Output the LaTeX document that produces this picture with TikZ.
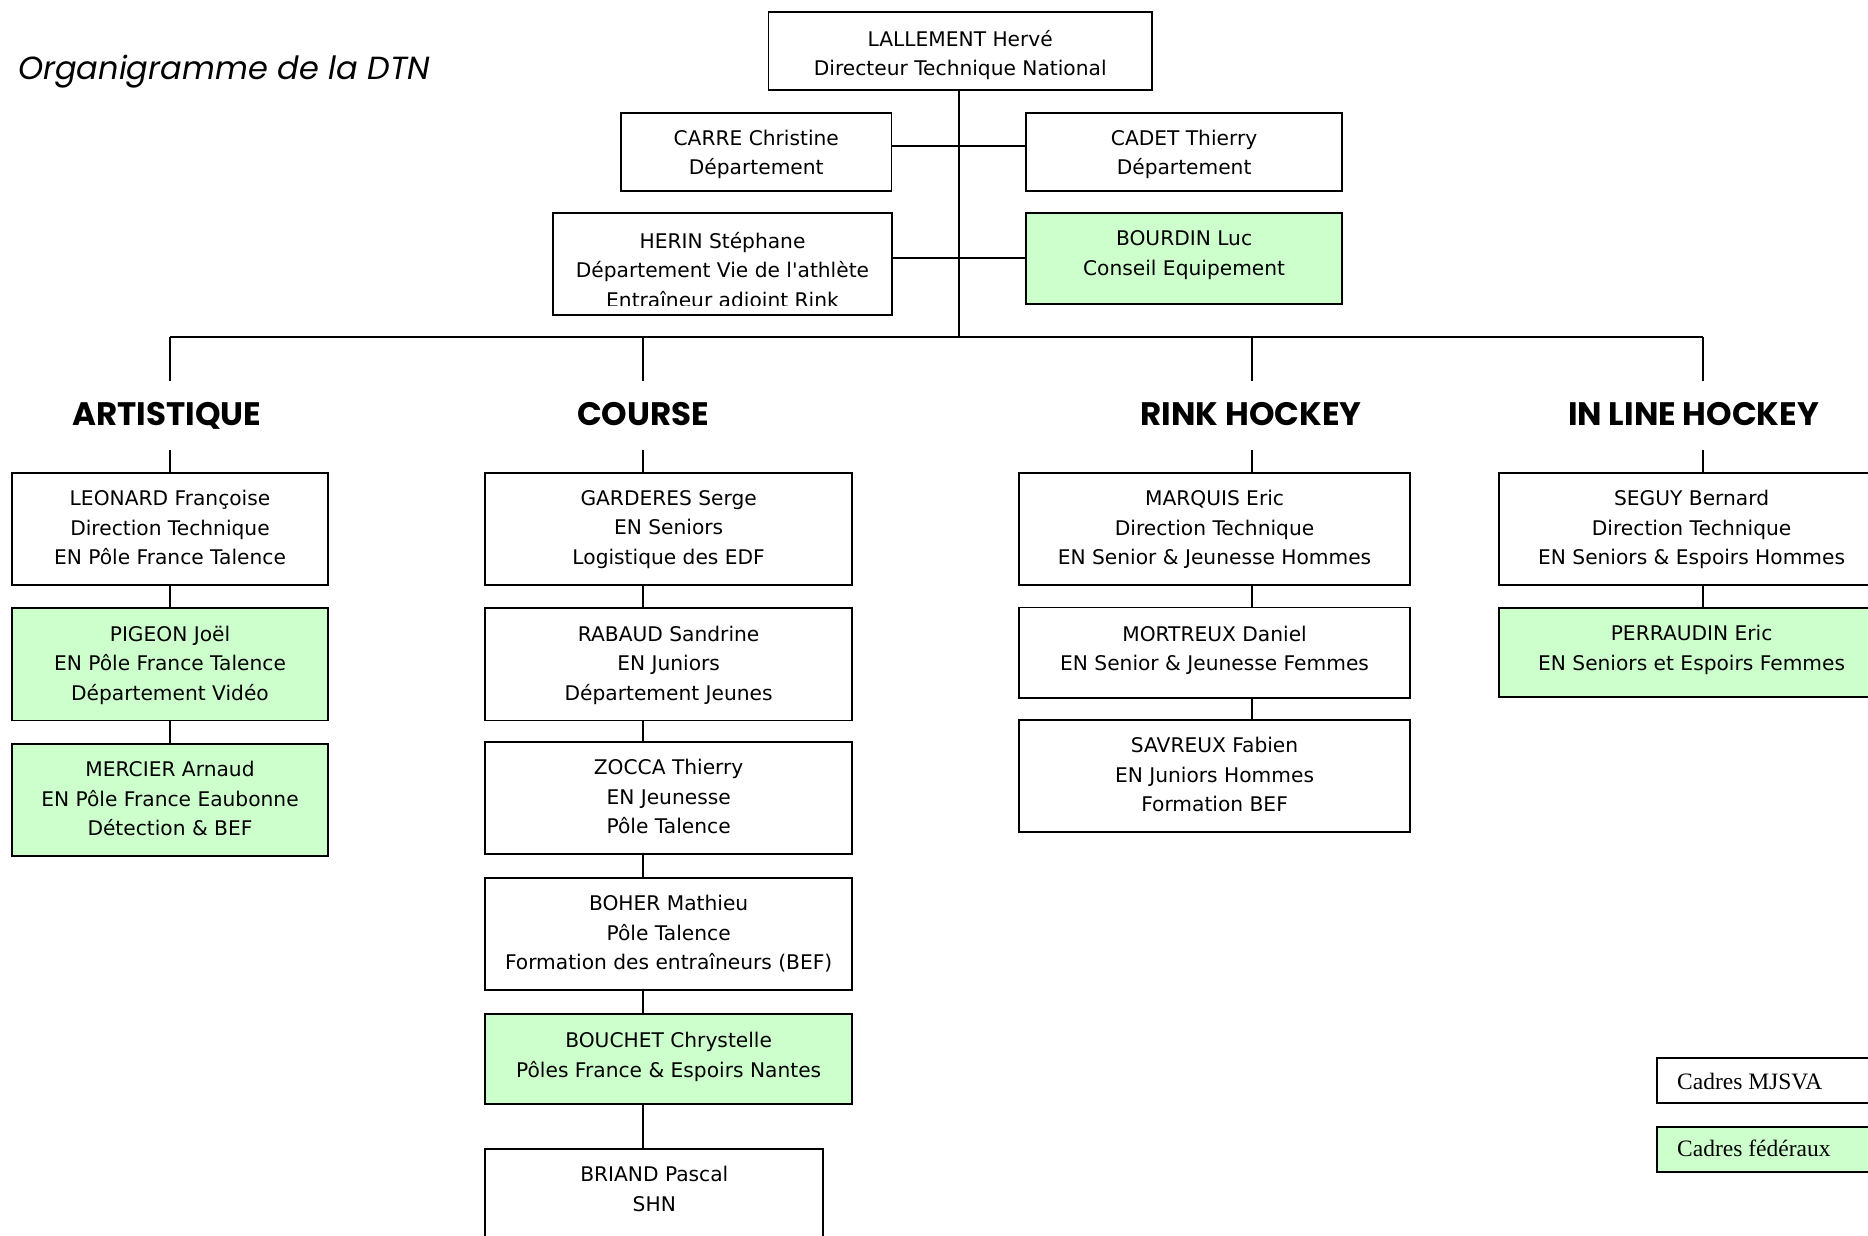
\documentclass[tikz,border=0pt]{standalone}
\usepackage{fontspec}
\setmainfont{DejaVu Sans}[Ligatures=TeXOff]
\newfontfamily\headfont{Poppins}
\newfontfamily\legfont{Liberation Serif}
\definecolor{fedgreen}{HTML}{CCFFCC}
\tikzset{
  box/.style={draw=black, line width=1.9pt, fill=white, inner sep=0pt, rectangle},
  fed/.style={fill=fedgreen},
  plain/.style={},
  txt/.style={align=center, inner sep=0pt, font=\fontsize{20.2}{29.5}\selectfont,
    execute at begin node=\strut, execute at end node=\strut},
  hdr/.style={font=\headfont\bfseries\fontsize{32.5}{36}\selectfont, inner xsep=0pt,
    inner ysep=22pt, text height=22.5pt, text depth=2.3pt, anchor=base},
  conn/.style={line width=1.9pt},
  legtxt/.style={font=\legfont\fontsize{23.5}{28}\selectfont, inner sep=0pt, anchor=base west},
}
% #1 dy (px down), #2 name, #3 x1, #4 y1, #5 x2, #6 y2, #7 style, #8 text
\newcommand\obox[8][0]{%
  \node[box,#7,minimum width={#5-#3},minimum height={#6-#4}] (#2) at ({(#3+#5)/2},{(#4+#6)/2}) {};
  \node[txt] (#2t) at ([yshift={-1*(#1)}]#2.center) {#8};
}
\begin{document}
\begin{tikzpicture}[x=1pt,y=-1pt]
\useasboundingbox (0,0) rectangle (1868,1236);
\clip (0,0) rectangle (1868,1236);

% title
\node[font=\headfont\itshape\fontsize{32}{36}\selectfont, inner sep=0pt, anchor=base west] (title) at (18,80) {Organigramme de la DTN};

% junction coordinates
\coordinate (trunk) at (959,337);
\coordinate (j1) at (959,145.7);
\coordinate (j2) at (959,258.3);
\coordinate (busA) at (170,337);
\coordinate (busB) at (643.3,337);
\coordinate (busC) at (1252,337);
\coordinate (busD) at (1702.7,337);

% top boxes
\obox[6.3]{lall}{768.5}{12.3}{1152}{90}{plain}{LALLEMENT Hervé\\Directeur Technique National}
\obox[5]{carre}{621}{112.7}{891.5}{190.7}{plain}{CARRE Christine\\Département}
\obox[5]{cadet}{1026.4}{112.7}{1341.8}{190.7}{plain}{CADET Thierry\\Département}
\node[box,minimum width={891.7-553.3},minimum height={315-213.3}] (herin) at ({(553.3+891.7)/2},{(213.3+315)/2}) {};
\begin{scope}
  \clip (553.3,213.3) rectangle (891.7,305);
  \node[txt] (herint) at (722.5,274.15) {HERIN Stéphane\\Département Vie de l'athlète\\Entraîneur adjoint Rink};
\end{scope}
\obox[-1.2]{bourdin}{1026.4}{213.3}{1341.8}{304}{fed}{BOURDIN Luc\\Conseil Equipement}

% headers
\node[hdr] (hA) at (166.7,425.7) {ARTISTIQUE};
\node[hdr] (hB) at (643,425.7) {COURSE};
\node[hdr] (hC) at (1251,425.7) {RINK HOCKEY};
\node[hdr] (hD) at (1693.5,425.7) {IN LINE HOCKEY};

% ARTISTIQUE
\obox[3]{leonard}{12}{472.7}{328}{585}{plain}{LEONARD Françoise\\Direction Technique\\EN Pôle France Talence}
\obox[3]{pigeon}{12}{608}{328}{720.5}{fed}{PIGEON Joël\\EN Pôle France Talence\\Département Vidéo}
\obox[3]{mercier}{12}{744}{328}{855.7}{fed}{MERCIER Arnaud\\EN Pôle France Eaubonne\\Détection \& BEF}

% COURSE
\obox[3]{garderes}{485.3}{472.7}{852}{585}{plain}{GARDERES Serge\\EN Seniors\\Logistique des EDF}
\obox[3]{rabaud}{485.3}{608}{852}{720.5}{plain}{RABAUD Sandrine\\EN Juniors\\Département Jeunes}
\obox[3]{zocca}{485.3}{742}{852}{854}{plain}{ZOCCA Thierry\\EN Jeunesse\\Pôle Talence}
\obox[3]{boher}{485.3}{878.3}{852}{990}{plain}{BOHER Mathieu\\Pôle Talence\\Formation des entraîneurs (BEF)}
\obox[0]{bouchet}{485.3}{1014}{852}{1104.3}{fed}{BOUCHET Chrystelle\\Pôles France \& Espoirs Nantes}
\obox[-11.5]{briand}{485.3}{1149.3}{823.3}{1260}{plain}{BRIAND Pascal\\SHN}

% RINK HOCKEY
\obox[3]{marquis}{1019.4}{472.7}{1409.7}{585}{plain}{MARQUIS Eric\\Direction Technique\\EN Senior \& Jeunesse Hommes}
\obox[0]{mortreux}{1019.4}{607.5}{1409.7}{697.7}{plain}{MORTREUX Daniel\\EN Senior \& Jeunesse Femmes}
\obox[3]{savreux}{1019.4}{720}{1409.7}{832.3}{plain}{SAVREUX Fabien\\EN Juniors Hommes\\Formation BEF}

% IN LINE HOCKEY
\obox[3]{seguy}{1499.3}{472.7}{1883.9}{585}{plain}{SEGUY Bernard\\Direction Technique\\EN Seniors \& Espoirs Hommes}
\obox[0]{perraudin}{1499.3}{607.7}{1883.9}{697}{fed}{PERRAUDIN Eric\\EN Seniors et Espoirs Femmes}

% connectors
\draw[conn] (lall.south -| trunk) -- (trunk);
\draw[conn] (j1 -| carre.east) -- (j1 -| cadet.west);
\draw[conn] (j2 -| herin.east) -- (j2 -| bourdin.west);
\draw[conn] (busA) -- (busD);

\draw[conn] (busA) -- (busA |- hA.north);
\draw[conn] (hA.south -| busA) -- (busA |- leonard.north);
\draw[conn] (busA |- leonard.south) -- (busA |- pigeon.north);
\draw[conn] (busA |- pigeon.south) -- (busA |- mercier.north);

\draw[conn] (busB) -- (busB |- hB.north);
\draw[conn] (hB.south -| busB) -- (busB |- garderes.north);
\draw[conn] (busB |- garderes.south) -- (busB |- rabaud.north);
\draw[conn] (busB |- rabaud.south) -- (busB |- zocca.north);
\draw[conn] (busB |- zocca.south) -- (busB |- boher.north);
\draw[conn] (busB |- boher.south) -- (busB |- bouchet.north);
\draw[conn] (busB |- bouchet.south) -- (busB |- briand.north);

\draw[conn] (busC) -- (busC |- hC.north);
\draw[conn] (hC.south -| busC) -- (busC |- marquis.north);
\draw[conn] (busC |- marquis.south) -- (busC |- mortreux.north);
\draw[conn] (busC |- mortreux.south) -- (busC |- savreux.north);

\draw[conn] (busD) -- (busD |- hD.north);
\draw[conn] (hD.south -| busD) -- (busD |- seguy.north);
\draw[conn] (busD |- seguy.south) -- (busD |- perraudin.north);

% legend
\node[box,minimum width=260,minimum height=45] (legmj) at (1787,1080.5) {};
\node[legtxt] (legmjt) at (1677,1089) {Cadres MJSVA};
\node[box,fed,minimum width=260,minimum height=45] (legfed) at (1787,1149.5) {};
\node[legtxt] (legfedt) at (1677,1156.7) {Cadres fédéraux};
\end{tikzpicture}
\end{document}
